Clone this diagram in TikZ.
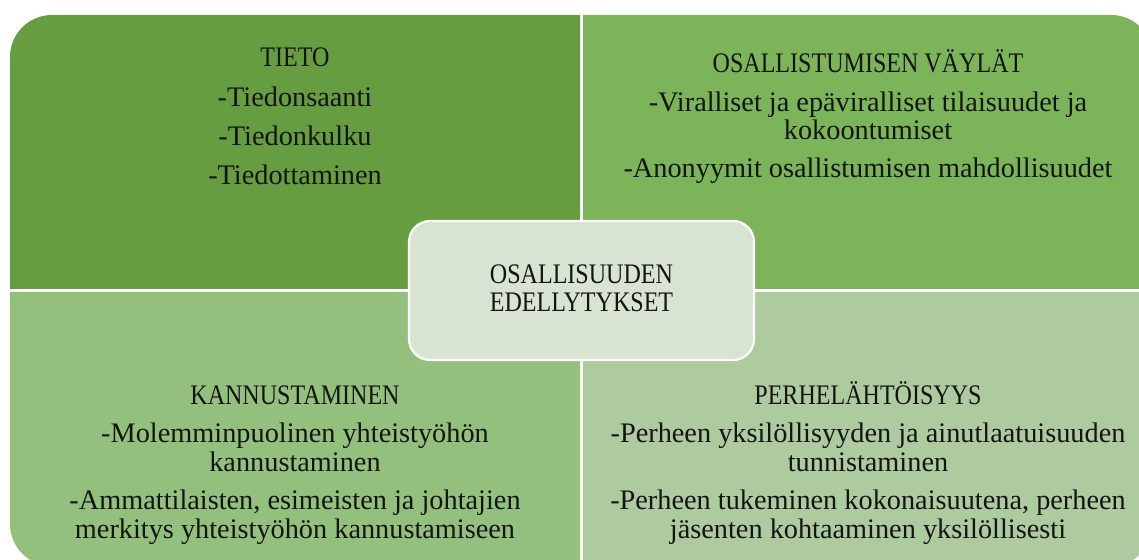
\documentclass[tikz,border=0pt]{standalone}
\usepackage{fontspec}
\setmainfont{Liberation Serif}
\definecolor{tlc}{HTML}{669D41}
\definecolor{trc}{HTML}{7CB45A}
\definecolor{blc}{HTML}{93C17D}
\definecolor{brc}{HTML}{ADCB9F}
\definecolor{cc}{HTML}{D8E4D1}
\definecolor{txt}{HTML}{141414}
\tikzset{
  ln/.style={anchor=base, inner sep=0pt, text=txt, font=\fontsize{28.3}{32}\selectfont},
  capsline/.style={ln, xscale=0.85, transform shape},
}
\begin{document}
\begin{tikzpicture}[x=1pt,y=1pt]
\useasboundingbox (0,0) rectangle (1139,559);
\clip (0,0) rectangle (1139,559);
% quadrants
\fill[tlc] (580,544) -- (52,544) arc[start angle=90, end angle=180, radius=42] -- (10,270) -- (580,270) -- cycle;
\fill[trc] (583,544) -- (1111,544) arc[start angle=90, end angle=0, radius=42] -- (1153,270) -- (583,270) -- cycle;
\fill[blc] (580,267) -- (10,267) -- (10,35) arc[start angle=180, end angle=270, radius=42] -- (580,-7) -- cycle;
\fill[brc] (583,267) -- (1153,267) -- (1153,35) arc[start angle=0, end angle=-90, radius=42] -- (583,-7) -- cycle;
% center box
\node[draw=white, line width=2.2pt, fill=cc, rounded corners=21pt, minimum width=345pt, minimum height=139pt, inner sep=0pt] (center) at (581.5,268.5) {};
\node[capsline] (c1) at (581.5,559-283.3) {OSALLISUUDEN};
\node[capsline] (c2) at (581.5,559-311.7) {EDELLYTYKSET};
% TL
\node[capsline] (tl0) at (295,559-66.7) {TIETO};
\node[ln] (tl1) at (295,559-106.7) {-Tiedonsaanti};
\node[ln] (tl2) at (295,559-146) {-Tiedonkulku};
\node[ln] (tl3) at (295,559-185) {-Tiedottaminen};
% TR
\node[capsline] (tr0) at (868,559-73) {OSALLISTUMISEN VÄYLÄT};
\node[ln] (tr1) at (868,559-111.7) {-Viralliset ja epäviralliset tilaisuudet ja};
\node[ln] (tr2) at (868,559-140) {kokoontumiset};
\node[ln] (tr3) at (868,559-178) {-Anonyymit osallistumisen mahdollisuudet};
% BL
\node[capsline] (bl0) at (295,559-405) {KANNUSTAMINEN};
\node[ln] (bl1) at (295,559-443) {-Molemminpuolinen yhteistyöhön};
\node[ln] (bl2) at (295,559-471.7) {kannustaminen};
\node[ln] (bl3) at (295,559-510) {-Ammattilaisten, esimeisten ja johtajien};
\node[ln] (bl4) at (295,559-538) {merkitys yhteistyöhön kannustamiseen};
% BR
\node[capsline] (br0) at (868,559-405) {PERHELÄHTÖISYYS};
\node[ln] (br1) at (868,559-443) {-Perheen yksilöllisyyden ja ainutlaatuisuuden};
\node[ln] (br2) at (868,559-471.7) {tunnistaminen};
\node[ln] (br3) at (868,559-510) {-Perheen tukeminen kokonaisuutena, perheen};
\node[ln] (br4) at (868,559-538) {jäsenten kohtaaminen yksilöllisesti};
\end{tikzpicture}
\end{document}
